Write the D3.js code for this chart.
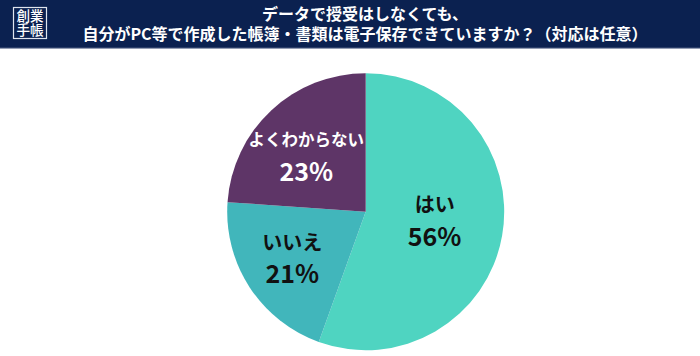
<!DOCTYPE html>
<html><head><meta charset="utf-8">
<script src="https://cdn.jsdelivr.net/npm/d3@7"></script>
<style>
html,body{margin:0;padding:0;background:#fff;}
svg{display:block;font-family:"Noto Sans CJK JP","Noto Sans",sans-serif;}
</style></head>
<body>
<svg id="c" width="700" height="356"></svg>
<script>
const titleLines = ["データで授受はしなくても、", "自分がPC等で作成した帳簿・書類は電子保存できていますか？（対応は任意）"];
const logoLines = ["創業", "手帳"];
const categories = ["はい", "いいえ", "よくわからない"];
const values = [55.5, 20.6, 23.9];
const valueLabels = ["56%", "21%", "23%"];
const colors = ["#4fd4c1", "#41b6bb", "#5e3567"];
const labelColors = ["#111111", "#111111", "#ffffff"];

const svg = d3.select("#c");
const W = 700, H = 356;

// header
svg.append("rect").attr("x",0).attr("y",0).attr("width",W).attr("height",47).attr("fill","#0b2150");
svg.append("rect").attr("x",0).attr("y",47).attr("width",W).attr("height",1.5).attr("fill","#2a3d68");

// logo
svg.append("rect").attr("x",13.5).attr("y",7.5).attr("width",33).attr("height",31)
  .attr("fill","none").attr("stroke","#dfe4ee").attr("stroke-width",1.2);
const logo = svg.append("text").attr("text-anchor","middle")
  .attr("fill","#fff").attr("font-size",13.5).attr("font-weight",500);
logoLines.forEach((t,i)=>{
  logo.append("tspan").attr("x",30).attr("y",20.5+i*14.5).text(t);
});

const title = svg.append("text").attr("text-anchor","middle")
  .attr("fill","#fff").attr("font-size",16).attr("font-weight",700);
titleLines.forEach((t,i)=>{
  title.append("tspan").attr("x",365).attr("y",19.5+i*20.5).text(t);
});

// pie
const cx = 365.7, cy = 211.7, R = 138.5;
const pie = d3.pie().sort(null).value(d=>d)(values);
const arc = d3.arc().innerRadius(0).outerRadius(R);
const g = svg.append("g").attr("transform",`translate(${cx},${cy})`);
g.selectAll("path").data(pie).join("path").attr("d",arc).attr("fill",(d,i)=>colors[i]);

const labelR = [70, 87.6, 87];
const shiftY = [-4.5, -2.7, 6];
const nameSize = [20, 20, 16.5];
const pctSize = [25, 25, 25];
const gap = 15.5;
pie.forEach((d,i)=>{
  const la = d3.arc().innerRadius(labelR[i]).outerRadius(labelR[i]);
  const [x,y0] = la.centroid(d);
  const y = y0 + shiftY[i];
  g.append("text").attr("x",x).attr("y",y-gap).attr("text-anchor","middle")
    .attr("dominant-baseline","central").attr("fill",labelColors[i])
    .attr("font-size",nameSize[i]).attr("font-weight",700).text(categories[i]);
  g.append("text").attr("x",x).attr("y",y+gap).attr("text-anchor","middle")
    .attr("dominant-baseline","central").attr("fill",labelColors[i])
    .attr("font-size",pctSize[i]).attr("font-weight",700).text(valueLabels[i]);
});
</script>
</body></html>
